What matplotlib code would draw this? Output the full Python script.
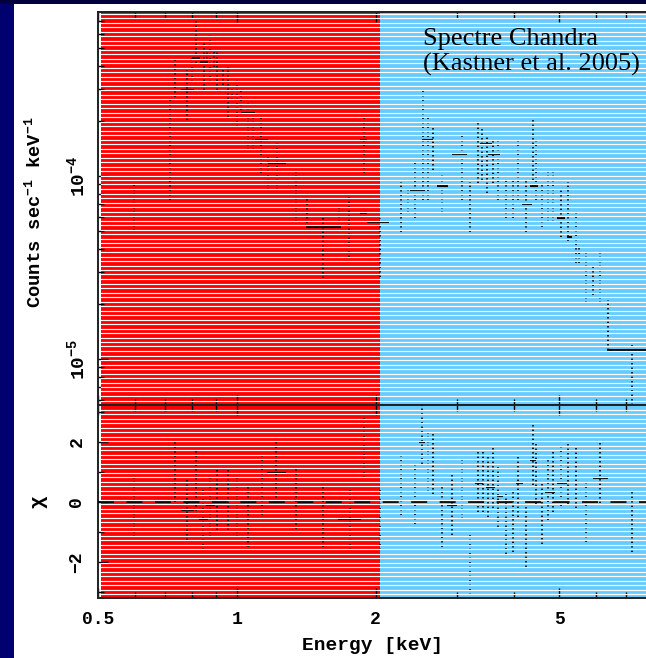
import numpy as np
import matplotlib
matplotlib.use("Agg")
import matplotlib.pyplot as plt
from matplotlib.lines import Line2D
from matplotlib.patches import Rectangle
from matplotlib.ticker import (LogLocator, LogFormatterSciNotation, NullFormatter,
                               MultipleLocator, FixedLocator, FixedFormatter)

# ---------------- data ----------------
# spectrum points: energy (keV), flux (1e-4 counts/s/keV), 1-sigma error (same units)
energy = [0.598, 0.716, 0.733, 0.779, 0.798, 0.815, 0.848, 0.861, 0.874, 0.891,
          0.905, 0.932, 0.956, 0.975, 1.000, 1.020, 1.056, 1.083, 1.127, 1.168,
          1.221, 1.343, 1.419, 1.537, 1.665, 1.751, 1.887, 2.044,
          2.270, 2.351, 2.435, 2.533, 2.598, 2.664, 2.786, 3.078, 3.204, 3.336,
          3.403, 3.488, 3.594, 3.685, 3.836, 3.972, 4.074, 4.240, 4.391, 4.457,
          4.592, 4.732, 4.852, 5.049, 5.229, 5.442, 5.525, 5.721, 5.924, 6.136,
          6.387, 7.202]
flux = [0.697, 1.70, 3.56, 2.91, 3.84, 5.63, 4.14, 4.51, 4.58, 4.41,
        3.92, 3.54, 3.02, 2.81, 2.66, 2.62, 1.95, 1.74, 1.57, 1.09,
        1.21, 0.806, 0.656, 0.433, 0.614, 0.574, 1.57, 0.435,
        0.711, 0.734, 0.884, 1.845, 1.42, 1.465, 0.82, 1.207, 0.711, 1.444,
        1.40, 1.241, 1.245, 1.156, 0.77, 0.77, 1.186, 0.723, 1.526, 1.156,
        0.71, 0.806, 0.806, 0.652, 0.684, 0.481, 0.377, 0.291, 0.271, 0.291,
        0.161, 0.085]
flux_err = [0.196, 0.96, 0.86, 0.89, 0.58, 1.49, 1.19, 0.37, 1.31, 0.47,
            0.96, 0.40, 0.92, 0.21, 0.81, 0.33, 0.56, 0.36, 0.53, 0.25,
            0.37, 0.246, 0.102, 0.156, 0.054, 0.213, 0.53, 0.154,
            0.216, 0.105, 0.294, 1.106, 0.68, 0.387, 0.19, 0.468, 0.216, 0.529,
            0.45, 0.434, 0.329, 0.417, 0.18, 0.18, 0.447, 0.228, 0.575, 0.417,
            0.183, 0.246, 0.246, 0.187, 0.243, 0.147, 0.043, 0.089, 0.047, 0.089,
            0.049, 0.035]
flux_unit = 1e-4

# visible histogram steps (keV range, flux in 1e-4)
seg_lo = [0.756, 0.798, 0.831, 1.020, 1.094, 1.168, 1.412, 1.85, 1.85, 1.915,
          2.373, 2.52, 2.717, 2.93, 3.368, 3.505, 4.156, 4.325, 4.95, 5.2, 6.36]
seg_hi = [0.807, 0.831, 0.865, 1.094, 1.168, 1.277, 1.684, 1.92, 1.92, 2.14,
          2.557, 2.664, 2.873, 3.156, 3.572, 3.718, 4.36, 4.50, 5.15, 5.33, 7.72]
seg_flux = [2.951, 4.414, 4.197, 2.209, 1.573, 1.178, 0.5264, 1.573, 0.628, 0.5607,
            0.839, 1.573, 0.882, 1.319, 1.496, 1.319, 0.703, 0.882, 0.5895, 0.4642, 0.112]

# residuals (chi)
res_energy = [0.598, 0.733, 0.779, 0.815, 0.844, 0.874, 0.905, 0.956, 1.000, 1.056,
              1.133, 1.215, 1.343, 1.537, 1.758, 1.887, 2.044, 2.270, 2.435, 2.520,
              2.598, 2.664, 2.786, 2.930, 3.078, 3.204, 3.336, 3.420, 3.505, 3.594,
              3.685, 3.836, 3.972, 4.074, 4.240, 4.391, 4.457, 4.592, 4.732, 4.852,
              5.049, 5.229, 5.442, 5.721, 6.136, 7.202]
res_chi = [-0.17, 1.0, -0.27, 0.70, -0.6, -0.17, 0.07, 0.07, -0.17, -0.5,
           0.57, 1.0, 0.1, -0.5, -0.6, 1.8, -0.6, 0.57, 0.27, 2.27,
           1.33, 1.27, -0.5, -0.1, 0.43, -2.1, 0.67, 0.67, 0.5, 0.8,
           0.17, -0.73, -0.67, 0.5, -1.17, 1.57, 0.93, -0.4, 0.4, 0.67,
           0.87, 0.93, 0.8, -0.33, 0.97, -0.67]
res_err = 1.0
res_seg_lo = [0.756, 0.827, 0.857, 1.162, 1.657, 2.49, 2.855, 3.286, 3.47, 3.665,
              4.04, 4.325, 4.66, 4.95, 5.93]
res_seg_hi = [0.807, 0.865, 0.895, 1.277, 1.858, 2.557, 3.0, 3.42, 3.63, 3.78,
              4.172, 4.457, 4.9, 5.2, 6.37]
res_seg_chi = [-0.27, -0.57, -0.1, 0.97, -0.57, 2.0, -0.1, 0.63, 0.5, 0.2,
               0.63, 1.4, 0.33, 0.63, 0.8]

band_edge = 2.044          # keV, boundary of the soft / hard bands
x_ticks = [0.5, 1, 2, 5]
x_ticklabels = ["0.5", "1", "2", "5"]
x_minor = [0.6, 0.7, 0.8, 0.9, 3, 4, 6, 7]
xlim = (0.5, 7.72)
ylim_top = (5.61e-6, 7.87e-4)
ylim_res = (-3.2, 3.23)
annotation = "Spectre Chandra\n(Kastner et al. 2005)"

# ---------------- style ----------------
plt.rcParams["font.family"] = ["Liberation Mono", "DejaVu Sans Mono"]
plt.rcParams["font.weight"] = "bold"
plt.rcParams["mathtext.fontset"] = "custom"
plt.rcParams["mathtext.rm"] = "Liberation Mono:bold"
plt.rcParams["mathtext.it"] = "Liberation Mono:bold"
plt.rcParams["mathtext.bf"] = "Liberation Mono:bold"
plt.rcParams["mathtext.default"] = "bf"
plt.rcParams["lines.scale_dashes"] = False

W, H = 646, 658
fig = plt.figure(figsize=(W / 100, H / 100), dpi=100)
fig.patch.set_facecolor("#00006e")
fig.add_artist(Rectangle((14 / W, 0), 1, 1 - 4 / H, transform=fig.transFigure,
                         facecolor="white", edgecolor="none", zorder=-10))
fig.add_artist(Rectangle((0, 1 - 4 / H), 1, 4 / H, transform=fig.transFigure,
                         facecolor="#00003c", edgecolor="none", zorder=-10))

left, right = 98 / W, 1.0
top_ax = fig.add_axes([left, (H - 405) / H, right - left, (405 - 12) / H])
res_ax = fig.add_axes([left, (H - 598) / H, right - left, (598 - 405) / H])

RED, BLUE = "#ff0000", "#66ccff"
dot_style = (0, (1.0, 2.24))

for ax in (top_ax, res_ax):
    ax.set_xscale("log")
    ax.set_xlim(*xlim)
    ax.axvspan(0.507, band_edge, color=RED, lw=0, zorder=0)
    ax.axvspan(band_edge, xlim[1], color=BLUE, lw=0, zorder=0)
    ax.xaxis.set_major_locator(FixedLocator(x_ticks))
    ax.xaxis.set_minor_locator(FixedLocator(x_minor))
    ax.tick_params(which="both", direction="in", top=True, right=False,
                   width=1.0, color="black")
    ax.tick_params(which="major", length=7)
    ax.tick_params(which="minor", length=4)
    ax.spines["right"].set_visible(False)
    for s in ("left", "top", "bottom"):
        ax.spines[s].set_linewidth(1.4)
        ax.spines[s].set_color("#202020")

# top panel
top_ax.set_yscale("log")
top_ax.set_ylim(*ylim_top)
e = np.array(energy)
f = np.array(flux) * flux_unit
fe = np.array(flux_err) * flux_unit
top_ax.vlines(e, np.maximum(f - fe, ylim_top[0]), f + fe, colors="black",
              linewidth=1.3, linestyles=[dot_style], zorder=3)
top_ax.hlines(np.array(seg_flux) * flux_unit, seg_lo, seg_hi, colors="black",
              linewidth=1.5, zorder=3)
top_ax.yaxis.set_major_locator(LogLocator(base=10))
top_ax.yaxis.set_minor_locator(LogLocator(base=10, subs=np.arange(2, 10)))
top_ax.yaxis.set_major_formatter(LogFormatterSciNotation())
top_ax.yaxis.set_minor_formatter(NullFormatter())
top_ax.xaxis.set_major_formatter(NullFormatter())
top_ax.tick_params(axis="y", labelsize=14, pad=7)
for lab in top_ax.get_yticklabels():
    lab.set_rotation(90)
    lab.set_va("center")
    lab.set_fontweight("bold")
top_ax.set_ylabel(r"Counts sec$^{-1}$ keV$^{-1}$", fontsize=13.5, fontweight="bold")
top_ax.yaxis.set_label_coords(-0.097, 0.49)

# annotation above the scan stripes
fig.text(423 / W, 1 - 28 / H, annotation, family="Liberation Serif",
         weight="normal", fontsize=19, va="top", ha="left",
         linespacing=1.15, zorder=10)

# residual panel
res_ax.set_ylim(*ylim_res)
re = np.array(res_energy)
rc = np.array(res_chi)
res_ax.vlines(re, rc - res_err, rc + res_err, colors="black",
              linewidth=1.3, linestyles=[dot_style], zorder=3)
res_ax.hlines(res_seg_chi, res_seg_lo, res_seg_hi, colors="black",
              linewidth=1.5, zorder=3)
res_ax.axhline(0, color="black", lw=1.3, linestyle=(0, (11.5, 9)), zorder=3)
res_ax.yaxis.set_major_locator(MultipleLocator(2))
res_ax.yaxis.set_minor_locator(MultipleLocator(1))
res_ax.xaxis.set_major_formatter(FixedFormatter(x_ticklabels))
res_ax.tick_params(axis="y", labelsize=13, pad=9)
res_ax.tick_params(axis="x", labelsize=13, pad=9)
for lab in res_ax.get_yticklabels() + res_ax.get_xticklabels():
    lab.set_fontweight("bold")
for lab in res_ax.get_yticklabels():
    lab.set_rotation(90)
    lab.set_va("center")
res_ax.set_ylabel(r"$\chi$", fontsize=15, fontweight="bold")
res_ax.yaxis.set_label_coords(-0.088, 0.5)
res_ax.set_xlabel("Energy [keV]", fontsize=14, fontweight="bold")
res_ax.xaxis.set_label_coords(0.5, -0.2)

# horizontal scan stripes across the coloured bands
for ypx in np.arange(13.5, 597.5, 4.5):
    if abs(ypx - 405) < 2.0:
        continue
    fig.add_artist(Line2D([101 / W, 1.0], [1 - ypx / H] * 2, transform=fig.transFigure,
                          color="white", lw=0.85, zorder=5))

fig.savefig("out.png", dpi=100, facecolor=fig.get_facecolor())
